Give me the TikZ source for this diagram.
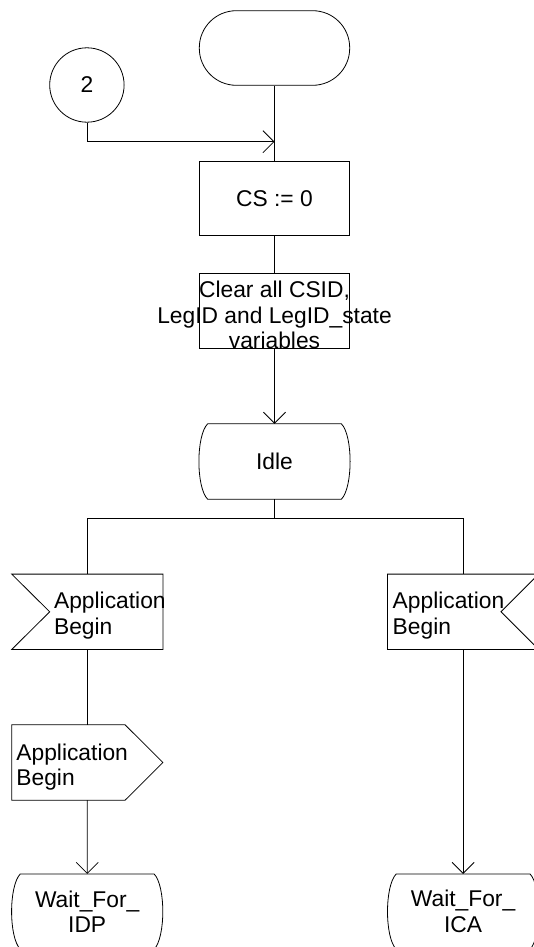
\documentclass[tikz,border=0pt]{standalone}
\usepackage{fontspec}
\setmainfont{Liberation Sans}
\usetikzlibrary{arrows.meta}

\tikzset{
  sym/.style={minimum width=150.4pt, minimum height=74.6pt, inner sep=0pt},
  box/.style={sym, draw},
  term/.style={box, rounded corners=37pt},
  conn/.style={circle, draw, minimum size=74.4pt, inner sep=0pt},
  txt/.style={align=left, inner sep=0pt},
  arr/.style={-{Straight Barb[length=11pt,width=22pt]}}
}
% state symbol: straight top and bottom, bulging sides
\newcommand\stateline[1]{%
  \draw ([xshift=8.7pt]#1.north west) -- ([xshift=-8.7pt]#1.north east)
    .. controls +(11.6pt,-12pt) and +(11.6pt,12pt) .. ([xshift=-8.7pt]#1.south east)
    -- ([xshift=8.7pt]#1.south west)
    .. controls +(-11.6pt,12pt) and +(-11.6pt,-12pt) .. ([xshift=8.7pt]#1.north west);}

\begin{document}
\begin{tikzpicture}[x=1pt,y=-1pt,line width=0.8pt,font=\fontsize{22.8}{25.6}\selectfont]
  \useasboundingbox (0,0) rectangle (533,947);

  % main column
  \node[term] (start) at (274.5,48) {};
  \node[box] (cs) at (274.5,198.5) {CS := 0};
  \node[box] (clear) at (274.5,311) {};
  \node[txt,align=center] (clearTxt) at (274.5,315) {Clear all CSID,\\LegID and LegID\_state\\variables};
  \node[sym] (idle) at (274.5,461.5) {Idle};
  \stateline{idle}

  % connector 2
  \node[conn] (c2) at (86.9,85) {2};
  \coordinate (merge) at (274.5,141.7);

  \draw (start) -- (cs);
  \draw[arr] (c2.south) |- (merge);
  \draw (cs) -- (clear);
  \draw[arr] (clear) -- (idle);

  % inputs
  \node[sym] (inL) at (87.3,611.8) {};
  \draw (inL.north west) -- (inL.north east) -- (inL.south east) -- (inL.south west) -- ([xshift=38pt]inL.west) -- cycle;
  \node[txt,anchor=base west] (inLtxt) at (53.7,634.3) {Application\\Begin};
  \node[sym] (inR) at (463.1,611.8) {};
  \draw (inR.north east) -- (inR.north west) -- (inR.south west) -- (inR.south east) -- ([xshift=-37.7pt]inR.east) -- cycle;
  \node[txt,anchor=base west] (inRtxt) at (392.3,634.3) {Application\\Begin};

  % output
  \node[sym] (sendL) at (87.3,762.5) {};
  \draw (sendL.north west) -- ([xshift=-37.8pt]sendL.north east) -- (sendL.east) -- ([xshift=-37.8pt]sendL.south east) -- (sendL.south west) -- cycle;
  \node[txt,anchor=base west] (sendLtxt) at (16,785.6) {Application\\Begin};

  % next states
  \node[sym,align=center] (waitL) at (87.2,911.6) {Wait\_For\_\\IDP};
  \stateline{waitL}
  \node[sym,align=center] (waitR) at (463.1,911.6) {Wait\_For\_\\ICA};
  \stateline{waitR}

  \coordinate (fork) at (274.5,518.3);
  \draw (idle) -- (fork);
  \draw (inL.north) |- (fork) -| (inR.north);
  \draw (inL) -- (sendL);
  \draw[arr] (sendL) -- (waitL);
  \draw[arr] (inR) -- (waitR);
\end{tikzpicture}
\end{document}
